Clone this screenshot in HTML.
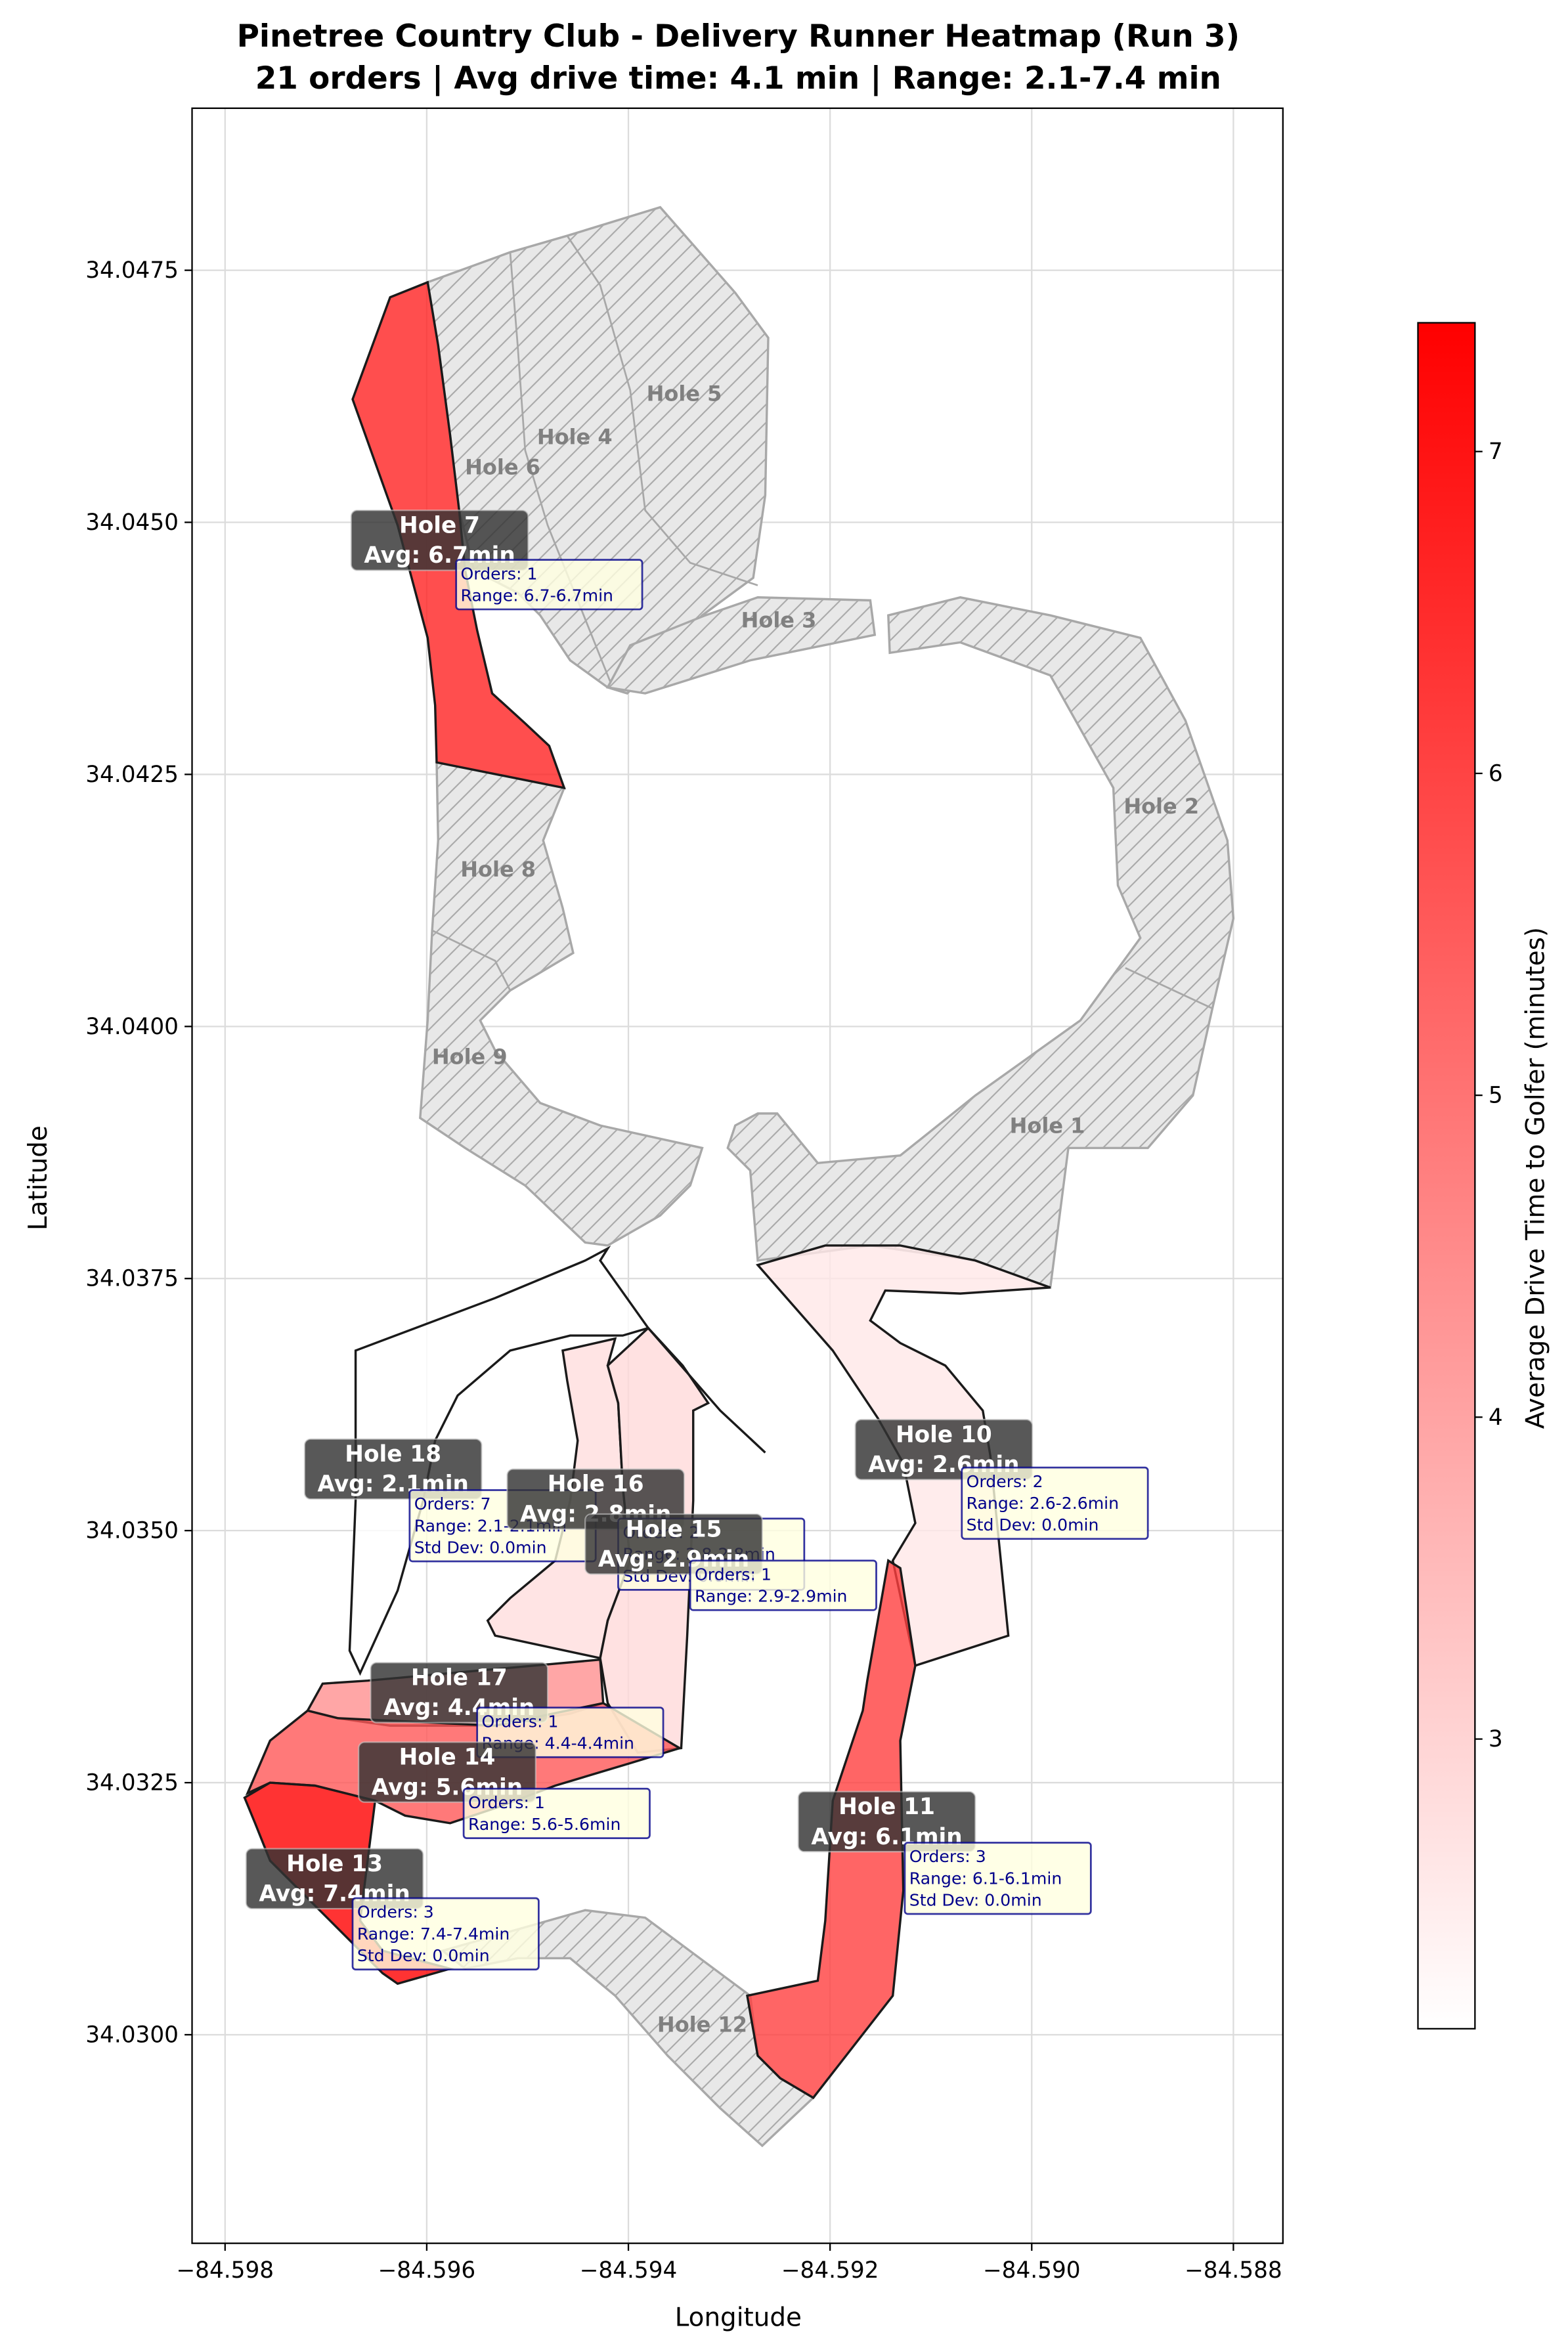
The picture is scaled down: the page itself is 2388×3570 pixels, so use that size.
<!DOCTYPE html>
<html><head><meta charset="utf-8">
<style>
html,body{margin:0;padding:0;background:#fff;}
svg{display:block;font-family:"DejaVu Sans","Liberation Sans",sans-serif;}
</style></head>
<body>
<svg id="chart" xmlns="http://www.w3.org/2000/svg" width="2388" height="3570" viewBox="0 0 1045 1562">
<defs>
<pattern id="hatch" patternUnits="userSpaceOnUse" width="12" height="12">
<rect width="12" height="12" fill="#e8e8e8"/>
<path d="M-3,3 L3,-3 M0,12 L12,0 M9,15 L15,9" stroke="#a8a8a8" stroke-width="0.9"/>
</pattern>
<linearGradient id="cbgrad" x1="0" y1="1" x2="0" y2="0">
<stop offset="0" stop-color="#ffffff"/><stop offset="1" stop-color="#ff0000"/>
</linearGradient>
<clipPath id="plotclip"><rect x="128" y="72" width="727" height="1423"/></clipPath>
</defs>
<g id="title">
<text x="492" y="31" text-anchor="middle" font-size="20.5" font-weight="bold">Pinetree Country Club - Delivery Runner Heatmap (Run 3)</text>
<text x="492" y="59" text-anchor="middle" font-size="20.5" font-weight="bold">21 orders | Avg drive time: 4.1 min | Range: 2.1-7.4 min</text>
</g>
<g id="grid"></g>
<g id="layer" clip-path="url(#plotclip)"></g>
<rect x="128" y="72" width="727" height="1423" fill="none" stroke="#000" stroke-width="1"/>
<g id="axes"></g>
<text x="492" y="1550" text-anchor="middle" font-size="17">Longitude</text>
<text transform="translate(31,785) rotate(-90)" text-anchor="middle" font-size="17">Latitude</text>
<g id="colorbar">
<rect x="945" y="215" width="38" height="1137" fill="url(#cbgrad)" stroke="#000" stroke-width="1"/>
</g>
<text transform="translate(1029,785) rotate(-90)" text-anchor="middle" font-size="17">Average Drive Time to Golfer (minutes)</text>
</svg>
<script>
const xTicks = [-84.598, -84.596, -84.594, -84.592, -84.590, -84.588];
const yTicks = [34.0475, 34.0450, 34.0425, 34.0400, 34.0375, 34.0350, 34.0325, 34.0300];
const cbTicks = [3, 4, 5, 6, 7];
const cbMin = 2.1, cbMax = 7.4;
const LON0 = -84.598, LAT0 = 34.030;

const grayNorth = [[2.009,17.381],[2.827,17.679],[3.393,17.842],[4.315,18.125],[5.060,17.277],[5.387,16.830],[5.357,15.268],[5.238,14.449],[4.732,14.077],[4.315,13.631],[3.988,13.304],[3.795,13.363],[3.423,13.631],[3.125,14.077],[2.902,14.301],[2.470,14.524],[2.321,15.119],[2.232,15.863],[2.113,16.756]];
const divider64 = [[2.827,17.679],[2.902,16.756],[2.976,15.714],[3.199,14.970],[3.497,14.226],[3.824,13.408]];
const divider45 = [[3.393,17.842],[3.720,17.351],[4.018,16.310],[4.167,15.119],[4.613,14.598],[5.283,14.375]];
const hole3 = [[3.795,13.363],[4.018,13.780],[4.762,14.077],[5.283,14.256],[6.399,14.226],[6.443,13.884],[5.208,13.631],[4.167,13.304]];
const hole12 = [[6.577,14.077],[7.292,14.256],[8.185,14.077],[9.077,13.854],[9.524,13.036],[9.940,11.845],[10.000,11.071],[9.792,10.179],[9.598,9.315],[9.152,8.795],[8.363,8.795],[8.185,7.411],[7.440,7.679],[6.399,7.827],[5.283,7.679],[5.208,8.571],[4.985,8.795],[5.060,9.018],[5.283,9.137],[5.476,9.137],[5.878,8.646],[6.696,8.720],[7.440,9.315],[8.482,10.060],[9.077,10.878],[8.854,11.399],[8.810,12.366],[8.185,13.482],[7.292,13.810],[6.592,13.705]];
const divider12 = [[8.929,10.580],[9.792,10.179]];
const hole89 = [[2.098,12.619],[3.363,12.366],[3.155,11.845],[3.348,11.176],[3.452,10.729],[2.827,10.357],[2.530,10.060],[2.679,9.762],[3.125,9.241],[3.720,9.018],[4.732,8.795],[4.613,8.423],[4.315,8.125],[3.795,7.827],[3.571,7.857],[2.976,8.423],[2.381,8.795],[1.935,9.092],[2.009,10.060],[2.054,10.952],[2.113,11.845]];
const divider89 = [[2.054,10.952],[2.679,10.652],[2.827,10.357]];
const holeTwelve = [[2.158,0.833],[3.571,1.235],[4.167,1.161],[5.208,0.387],[5.283,-0.208],[5.506,-0.432],[5.833,-0.625],[5.327,-1.101],[4.911,-0.729],[4.390,-0.208],[3.869,0.387],[3.423,0.759],[2.902,0.759],[2.381,0.655]];
const extraLine = [[4.196,7.009],[4.911,6.190],[5.357,5.774]];

const holeNames = ['Hole 7','Hole 18','Hole 16','Hole 15','Hole 10','Hole 17','Hole 14','Hole 11','Hole 13'];
const holeAvg = [6.7, 2.1, 2.8, 2.9, 2.6, 4.4, 5.6, 6.1, 7.4];
const holeOrders = [1, 7, 2, 1, 2, 1, 1, 3, 3];
const holeMin = [6.7, 2.1, 2.8, 2.9, 2.6, 4.4, 5.6, 6.1, 7.4];
const holeMax = [6.7, 2.1, 2.8, 2.9, 2.6, 4.4, 5.6, 6.1, 7.4];
const holeStd = [null, 0.0, 0.0, null, 0.0, null, null, 0.0, 0.0];
const polys = [
 [[1.637,17.232],[2.009,17.381],[2.113,16.756],[2.232,15.863],[2.321,15.119],[2.381,14.524],[2.5,13.929],[2.649,13.304],[2.976,13.006],[3.214,12.783],[3.363,12.366],[2.098,12.619],[2.083,13.185],[2.009,13.854],[1.711,14.970],[1.265,16.220]],
 [[1.295,6.786],[2.679,7.307],[3.571,7.679],[3.795,7.798],[3.720,7.679],[4.196,7.009],[3.943,6.935],[3.423,6.935],[2.827,6.786],[2.307,6.339],[2.083,5.893],[1.964,5.298],[1.711,4.405],[1.339,3.586],[1.235,3.810],[1.295,5.298]],
 [[3.348,6.786],[3.869,6.905],[3.795,6.637],[3.899,6.265],[3.943,5.446],[4.018,4.702],[3.795,4.107],[3.720,3.735],[2.679,3.958],[2.604,4.107],[2.827,4.330],[3.274,4.702],[3.423,5.298],[3.497,5.893],[3.393,6.488]],
 [[3.795,6.637],[4.196,7.009],[4.539,6.637],[4.792,6.265],[4.643,6.190],[4.643,5.298],[4.583,3.958],[4.524,2.842],[4.092,2.798],[3.795,3.289],[3.720,3.735],[3.795,4.107],[4.018,4.702],[3.943,5.446],[3.899,6.265]],
 [[5.283,7.634],[5.952,7.827],[6.696,7.827],[7.440,7.679],[8.185,7.411],[7.292,7.351],[6.548,7.381],[6.399,7.083],[6.696,6.860],[7.143,6.637],[7.515,6.190],[7.589,5.744],[7.768,3.958],[6.845,3.661],[6.622,4.702],[6.845,5.074],[6.726,5.670],[6.473,6.116],[6.027,6.786]],
 [[0.818,3.214],[0.967,3.482],[1.414,3.512],[3.720,3.720],[3.750,3.289],[3.423,3.185],[2.679,3.065],[1.637,3.065],[1.116,3.140]],
 [[0.223,2.396],[0.446,2.917],[0.818,3.214],[1.116,3.140],[2.679,3.065],[3.750,3.289],[4.509,2.842],[4.018,2.693],[3.274,2.470],[2.679,2.247],[2.232,2.098],[1.786,2.173],[1.488,2.321],[0.893,2.470],[0.446,2.500]],
 [[5.179,0.387],[5.878,0.536],[5.952,1.131],[6.027,2.321],[6.324,3.214],[6.369,3.512],[6.577,4.702],[6.696,4.628],[6.845,3.661],[6.696,2.917],[6.726,1.429],[6.622,0.387],[5.833,-0.625],[5.506,-0.432],[5.283,-0.208]],
 [[0.193,2.351],[0.446,2.500],[0.893,2.470],[1.488,2.321],[1.414,1.726],[1.339,1.131],[1.563,0.833],[2.232,0.655],[1.711,0.506],[1.563,0.610],[1.042,1.131],[0.446,1.726],[0.298,2.098]]
];
const labelPos = [[293,360],[262,979],[397,999],[449,1029],[629,966],[306,1128],[298,1181],[591,1214],[223,1252]];
const infoPos = [[304,373],[273,993],[412,1012],[460,1040],[641,978],[318,1138],[309,1192],[603,1228],[235,1265]];
const grayLabels = ['Hole 5','Hole 4','Hole 6','Hole 3','Hole 2','Hole 8','Hole 9','Hole 1','Hole 12'];
const grayLabelPos = [[456,262],[383,291],[335,311],[519,413],[774,537],[332,579],[313,704],[698,750],[468,1349]];

const NS = 'http://www.w3.org/2000/svg';
function X(lon){ return 150 + (lon - LON0) * 67200; }
function Y(lat){ return 1356 - (lat - LAT0) * 67200; }
function CB(v){ return 1352 - (v - cbMin) / (cbMax - cbMin) * 1137; }
function pts(arr){ return arr.map(p => X(LON0 + p[0]/1000).toFixed(1) + ',' + Y(LAT0 + p[1]/1000).toFixed(1)).join(' '); }
function color(v){ const t = Math.max(0, Math.min(1, (v - cbMin)/(cbMax - cbMin))); const g = Math.round(255*(1-t)); return 'rgb(255,'+g+','+g+')'; }
function mk(tag, attrs, parent){ const e = document.createElementNS(NS, tag); for (const k in attrs) e.setAttribute(k, attrs[k]); parent.appendChild(e); return e; }

const grid = document.getElementById('grid');
const axes = document.getElementById('axes');
xTicks.forEach(t => {
  const x = X(t);
  const gl = mk('line', {x1:x, x2:x, y1:72, y2:1495, stroke:'#dcdcdc', 'stroke-width':1}, grid);
  
  
  mk('line', {x1:x, x2:x, y1:1495, y2:1500, stroke:'#000'}, axes);
  const tx = mk('text', {x:x, y:1518, 'text-anchor':'middle', 'font-size':15}, axes);
  tx.textContent = t.toFixed(3).replace('-', '\u2212');
  
  
});
yTicks.forEach(t => {
  const y = Y(t);
  const gl = mk('line', {x1:128, x2:855, y1:y, y2:y, stroke:'#dcdcdc', 'stroke-width':1}, grid);
  
  
  mk('line', {x1:123, x2:128, y1:y, y2:y, stroke:'#000'}, axes);
  const tx = mk('text', {x:119, y:y+5, 'text-anchor':'end', 'font-size':15}, axes);
  tx.textContent = t.toFixed(4);
  
  
});
const cb = document.getElementById('colorbar');
cbTicks.forEach(t => {
  const y = CB(t);
  mk('line', {x1:983, x2:988, y1:y, y2:y, stroke:'#000'}, cb);
  const tx = mk('text', {x:992, y:y+5, 'font-size':15}, cb);
  tx.textContent = t;
  
  
});

const layer = document.getElementById('layer');
[[grayNorth,'hole-4-5-6-area'],[hole3,'hole-3-area'],[hole12,'hole-1-2-area'],[hole89,'hole-8-9-area'],[holeTwelve,'hole-12-area']].forEach(g => {
  const p = mk('polygon', {points:pts(g[0]), fill:'url(#hatch)', stroke:'#a8a8a8', 'stroke-width':1.5}, layer);
  
  
});
[divider64, divider45, divider12, divider89].forEach(d => {
  const l = mk('polyline', {points:pts(d), fill:'none', stroke:'#a8a8a8', 'stroke-width':1.2}, layer);
  
  
});
grayLabels.forEach((n, i) => {
  const t = mk('text', {x:grayLabelPos[i][0], y:grayLabelPos[i][1]+5, 'text-anchor':'middle', 'font-size':14, 'font-weight':'bold', fill:'#808080'}, layer);
  t.textContent = n;
  
  
});
polys.forEach((poly, i) => {
  const p = mk('polygon', {points:pts(poly), fill:color(holeAvg[i]), 'fill-opacity':0.8, stroke:'#1a1a1a', 'stroke-width':1.5}, layer);
  
  
});
const el = mk('polyline', {points:pts(extraLine), fill:'none', stroke:'#1a1a1a', 'stroke-width':1.5}, layer);



holeNames.forEach((n, i) => {
  const [cx, cy] = labelPos[i];
  const g = mk('g', {}, layer);
  
  
  mk('rect', {x:cx-59, y:cy-20, width:118, height:40, rx:4, fill:'#333', 'fill-opacity':0.82, stroke:'#ccc', 'stroke-opacity':0.6, 'stroke-width':1}, g);
  const t1 = mk('text', {x:cx, y:cy-5, 'text-anchor':'middle', 'font-size':15, 'font-weight':'bold', fill:'#fff'}, g);
  t1.textContent = n;
  const t2 = mk('text', {x:cx, y:cy+15, 'text-anchor':'middle', 'font-size':15, 'font-weight':'bold', fill:'#fff'}, g);
  t2.textContent = 'Avg: ' + holeAvg[i].toFixed(1) + 'min';
  const lines = ['Orders: ' + holeOrders[i], 'Range: ' + holeMin[i].toFixed(1) + '-' + holeMax[i].toFixed(1) + 'min'];
  if (holeStd[i] !== null) lines.push('Std Dev: ' + holeStd[i].toFixed(1) + 'min');
  const [ix, iy] = infoPos[i];
  const ib = mk('g', {}, layer);
  
  
  mk('rect', {x:ix, y:iy, width:124, height:lines.length*14.5+4, rx:2, fill:'#ffffe0', 'fill-opacity':0.8, stroke:'#00008b', 'stroke-opacity':0.8, 'stroke-width':1.2}, ib);
  lines.forEach((s, k) => {
    const t = mk('text', {x:ix+3, y:iy+13+k*14.5, 'font-size':11, fill:'#00008b'}, ib);
    t.textContent = s;
  });
});
</script>
</body></html>
